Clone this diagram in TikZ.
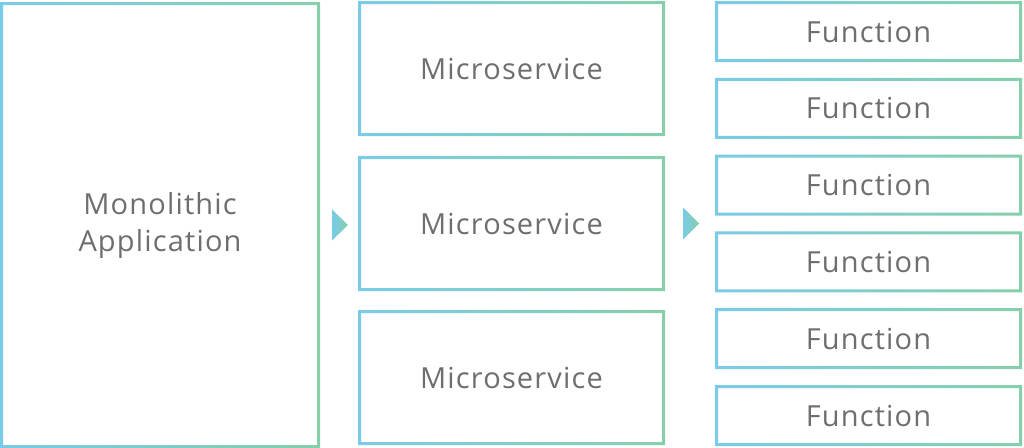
\documentclass[tikz,border=0pt]{standalone}
\usepackage{fontspec}
\setmainfont{Open Sans}[LetterSpace=4]
\usetikzlibrary{positioning}
\definecolor{edgeblue}{RGB}{122,203,232}
\definecolor{edgegreen}{RGB}{134,207,170}
\definecolor{labelgray}{RGB}{110,110,110}
\tikzstyle{box} = [rectangle, inner sep=0pt, outer sep=0pt, text centered, text=labelgray, font=\fontsize{29}{37}\selectfont]
\tikzstyle{mono} = [box, minimum width=320pt, minimum height=446pt, align=center]
\tikzstyle{service} = [box, minimum width=307pt, minimum height=135pt]
\tikzstyle{func} = [box, minimum width=307pt, minimum height=61pt]
\tikzstyle{rim} = [left color=edgeblue, right color=edgegreen, even odd rule]
\tikzstyle{tip} = [left color=edgeblue, right color=edgegreen]

\begin{document}
\begin{tikzpicture}[x=1pt, y=1pt, node distance=15.8pt]
	\useasboundingbox (0,0) rectangle (1024,-447);

	\node[mono] (mono) at (160,-225) {Monolithic\\Application};

	\node[service] (ms1) at (511.5,-68.5) {Microservice};
	\node[service, below=20pt of ms1] (ms2) {Microservice};
	\node[service, below=19pt of ms2] (ms3) {Microservice};

	\node[func] (fn1) at (868.5,-31.5) {Function};
	\node[func, below=of fn1] (fn2) {Function};
	\node[func, below=of fn2] (fn3) {Function};
	\node[func, below=of fn3] (fn4) {Function};
	\node[func, below=of fn4] (fn5) {Function};
	\node[func, below=of fn5] (fn6) {Function};

	% gradient borders
	\foreach \n in {mono,ms1,ms2,ms3,fn1,fn2,fn3,fn4,fn5,fn6}
		\shade[rim] (\n.south west) rectangle (\n.north east)
			([shift={(3,3)}]\n.south west) rectangle ([shift={(-3,-3)}]\n.north east);

	% arrows between stages
	\shade[tip] ([xshift=12pt]mono.east) ++(0,15.5) -- ++(16,-15.5) -- ++(-16,-15.5) -- cycle;
	\shade[tip] ([xshift=18pt]ms2.east) ++(0,16) -- ++(16,-16) -- ++(-16,-16) -- cycle;

\end{tikzpicture}
\end{document}
